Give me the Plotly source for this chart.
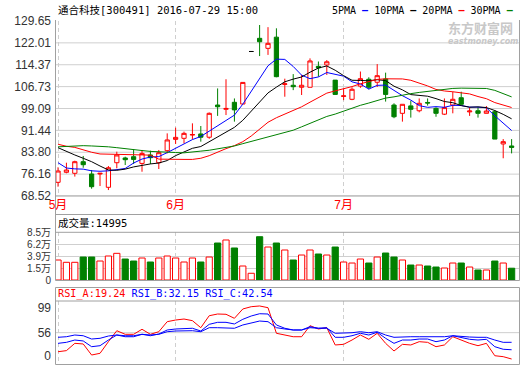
import plotly.graph_objects as go

# ---------------- data ----------------
dates = [
    "2016-05-12", "2016-05-13", "2016-05-16", "2016-05-17", "2016-05-18", "2016-05-19", "2016-05-20",
    "2016-05-23", "2016-05-24", "2016-05-25", "2016-05-26", "2016-05-27", "2016-05-30", "2016-05-31",
    "2016-06-01", "2016-06-02", "2016-06-03", "2016-06-06", "2016-06-07", "2016-06-08", "2016-06-13",
    "2016-06-14", "2016-06-15", "2016-06-16", "2016-06-17", "2016-06-20", "2016-06-21", "2016-06-22",
    "2016-06-23", "2016-06-24", "2016-06-27", "2016-06-28", "2016-06-29", "2016-06-30",
    "2016-07-01", "2016-07-04", "2016-07-05", "2016-07-06", "2016-07-07", "2016-07-08", "2016-07-11",
    "2016-07-12", "2016-07-13", "2016-07-14", "2016-07-15", "2016-07-18", "2016-07-19", "2016-07-20",
    "2016-07-21", "2016-07-22", "2016-07-25", "2016-07-26", "2016-07-27", "2016-07-28", "2016-07-29",
]
opens = [73.3, 76.8, 76.45, 80.5, 76.2, 76.2, 71.56, 80.15, 81.8, 82.25,
         79.9, 82.85, 80.15, 84.35, 88.3, 88.67, 89.8, 90.2, 89.05, 100.3,
         98.8, 101.25, 100.65, 119.0, 123.6, 120.1, 124.0, 107.5, 107.2, 106.5,
         106.5, 113.8, 114.3, 109.0, 103.3, 102.3, 106.9, 109.3, 108.25, 109.4,
         100.3, 97.4, 100.0, 98.3, 101.2, 99.15, 97.1, 100.3, 102.85, 97.9,
         98.3, 97.4, 97.95, 86.7, 86.0]
highs = [78.55, 80.15, 80.85, 82.5, 77.6, 76.5, 79.0, 84.0, 82.25, 84.8,
         84.6, 84.35, 84.6, 90.4, 92.4, 91.0, 93.9, 92.97, 97.7, 106.1,
         109.3, 102.6, 108.2, 119.0, 128.25, 127.5, 127.1, 109.5, 111.1, 110.8,
         116.6, 115.5, 116.0, 109.0, 106.1, 106.5, 112.0, 110.0, 114.6, 111.6,
         100.9, 100.55, 101.8, 102.6, 102.6, 99.5, 102.6, 104.95, 104.95, 99.5,
         99.5, 99.95, 98.55, 88.4, 88.4]
lows = [71.77, 76.45, 75.3, 78.4, 71.07, 72.0, 70.6, 78.2, 79.35, 79.7,
        77.0, 79.7, 77.95, 83.4, 86.7, 86.9, 88.3, 87.5, 88.5, 96.5,
        96.8, 94.5, 100.65, 119.0, 117.4, 117.8, 110.0, 103.2, 105.5, 103.8,
        106.5, 110.2, 110.8, 104.0, 102.0, 102.0, 106.3, 105.8, 106.6, 101.5,
        95.7, 94.5, 95.9, 97.75, 100.1, 96.2, 96.8, 97.4, 100.3, 96.5,
        95.9, 97.4, 88.4, 81.7, 83.4]
closes = [77.25, 77.6, 80.5, 79.45, 71.77, 76.45, 78.4, 82.85, 81.2, 81.3,
          83.4, 81.9, 83.65, 88.1, 89.0, 90.4, 90.0, 89.05, 97.4, 99.7,
          99.1, 98.6, 108.2, 119.0, 122.4, 121.85, 110.2, 107.7, 106.7, 107.2,
          115.7, 113.3, 115.4, 104.0, 103.5, 105.8, 109.5, 106.5, 110.55, 104.0,
          96.2, 100.55, 98.8, 100.9, 101.0, 97.4, 99.4, 102.3, 100.55, 98.2,
          97.4, 98.2, 88.4, 87.5, 85.5]
# volume in lots (手)
volumes = [31000, 26500, 26500, 36800, 36800, 29000, 38800, 44000, 32900, 29000,
           34900, 27100, 34900, 38800, 34900, 27100, 34900, 27100, 36800, 64100,
           70000, 54400, 19300, 5100, 76400, 56300, 64100, 50500, 31000, 40700,
           50500, 42700, 40700, 56300, 27100, 25100, 32900, 25100, 36800, 44600,
           36800, 31000, 21200, 21200, 19300, 17300, 15400, 25100, 25100, 17300,
           11500, 11500, 29000, 25100, 14995]
rsi_a = [29.4, 30.9, 41.1, 40.2, 24.8, 27.2, 43.4, 58.7, 53.7, 53.7,
         60.7, 53.7, 57.3, 71.3, 73.6, 75.0, 72.7, 62.9, 79.6, 82.0,
         81.6, 76.0, 89.0, 92.2, 93.2, 90.8, 55.1, 52.7, 50.3, 50.3,
         65.7, 61.1, 62.9, 38.8, 39.7, 45.7, 52.7, 46.7, 55.1, 41.1,
         30.4, 39.7, 38.8, 43.4, 42.5, 36.4, 38.8, 50.3, 45.7, 41.1,
         37.8, 41.1, 23.8, 22.5, 19.24]
rsi_b = [41.1, 42.5, 45.7, 44.4, 36.4, 37.8, 45.7, 52.7, 50.3, 50.3,
         53.7, 51.7, 54.1, 59.7, 61.1, 62.1, 62.1, 58.3, 67.6, 70.4,
         70.4, 68.1, 74.6, 79.2, 82.4, 82.0, 66.7, 62.1, 59.7, 59.7,
         64.3, 62.1, 62.9, 49.5, 49.5, 51.7, 55.1, 52.7, 56.5, 48.1,
         41.1, 45.7, 45.7, 47.1, 47.1, 43.4, 45.7, 51.7, 49.0, 46.7,
         45.7, 46.7, 36.4, 32.8, 32.15]
rsi_c = [49.5, 50.3, 52.7, 51.7, 47.1, 48.1, 51.3, 52.7, 51.7, 51.7,
         53.7, 52.7, 53.7, 57.3, 58.3, 58.7, 58.7, 57.3, 62.9, 62.9,
         62.9, 62.1, 66.7, 69.0, 72.2, 71.3, 62.9, 61.1, 59.7, 59.7,
         62.9, 62.1, 62.1, 55.1, 55.1, 55.9, 57.3, 55.9, 57.3, 52.7,
         49.5, 50.3, 50.3, 50.3, 50.3, 49.5, 50.3, 51.7, 50.3, 49.9,
         49.5, 49.5, 45.7, 42.5, 42.54]
# moving-average values before enough visible closes exist
ma5_head = [80.15, 78.3, 78.0, 77.9]
ma10_head = [85.4, 84.0, 82.85, 81.7, 80.5, 79.0, 77.6, 77.5, 77.9]
ma20_head = [86.6, 85.9, 85.5, 84.6, 83.8, 83.2, 83.1, 83.0, 83.0, 82.9,
             82.9, 82.8, 81.4, 81.3, 81.3, 81.3, 81.3, 81.7, 82.6]
ma30_head = [85.7, 85.9, 86.0, 86.1, 86.0, 85.9, 85.7, 85.4, 85.0, 84.7,
             84.4, 84.1, 83.9, 83.8, 83.7, 83.6, 83.8, 84.2, 84.5, 85.0,
             85.5, 86.0, 86.8, 87.6, 88.4, 89.2, 89.9, 90.9, 91.5]

title_text = "通合科技[300491] 2016-07-29 15:00"
month_labels = ["5月", "6月", "7月"]
price_tick_labels = ["68.52", "76.16", "83.80", "91.44", "99.09",
                     "106.73", "114.37", "122.01", "129.65"]
vol_tick_labels = ["0", "1.5万", "3.9万", "6.2万", "8.5万"]
vol_axis_min, vol_axis_max = -0.8, 8.5          # in 万
rsi_axis_min, rsi_axis_max = 12.27, 100.14
rsi_tick_vals = [23.4, 56, 90.4]
rsi_tick_labels = ["0", "56", "99"]
rsi_mid = 56

# ---------------- styling ----------------
RED, GREEN, BLUE, BLACK = "#FF0000", "#008000", "#0000FF", "#000000"
GRID, FRAME = "#CFCFCF", "#A0A0A0"
W, H = 520, 365
MONO = "DejaVu Sans Mono, Noto Sans CJK SC"
SANS = "Liberation Sans, Noto Sans CJK SC"


def fx(p):
    return p / W


def fy(p):
    return 1 - p / H


def moving_average(values, n, head):
    out = list(head)
    for i in range(len(head), len(values)):
        out.append(sum(values[i - n + 1:i + 1]) / n)
    return out


n = len(dates)
ma5 = moving_average(closes, 5, ma5_head)
ma10 = moving_average(closes, 10, ma10_head)
ma20 = moving_average(closes, 20, ma20_head)
ma30 = moving_average(closes, 30, ma30_head)

flat = [highs[i] == lows[i] for i in range(n)]
norm_idx = [i for i in range(n) if not flat[i]]
flat_idx = [i for i in range(n) if flat[i]]

fig = go.Figure()

fig.add_trace(go.Candlestick(
    x=[dates[i] for i in norm_idx],
    open=[opens[i] for i in norm_idx], high=[highs[i] for i in norm_idx],
    low=[lows[i] for i in norm_idx], close=[closes[i] for i in norm_idx],
    increasing=dict(line=dict(color=RED, width=1), fillcolor="white"),
    decreasing=dict(line=dict(color=GREEN, width=1), fillcolor=GREEN),
    whiskerwidth=0, xaxis="x", yaxis="y", showlegend=False))
fig.add_trace(go.Candlestick(
    x=[dates[i] for i in flat_idx],
    open=[opens[i] for i in flat_idx], high=[highs[i] for i in flat_idx],
    low=[lows[i] for i in flat_idx], close=[closes[i] for i in flat_idx],
    increasing=dict(line=dict(color=BLACK, width=1), fillcolor=BLACK),
    decreasing=dict(line=dict(color=BLACK, width=1), fillcolor=BLACK),
    whiskerwidth=0, xaxis="x", yaxis="y", showlegend=False))

for vals, col, name in [(ma5, BLUE, "5PMA"), (ma10, BLACK, "10PMA"),
                        (ma20, RED, "20PMA"), (ma30, GREEN, "30PMA")]:
    fig.add_trace(go.Scatter(x=dates, y=vals, mode="lines", name=name,
                             line=dict(color=col, width=1), xaxis="x", yaxis="y",
                             showlegend=False))

# volume bars (hollow red for up days, solid green for down days)
up = [closes[i] >= opens[i] for i in range(n)]
vol_wan = [v / 10000 for v in volumes]
fig.add_trace(go.Bar(
    x=dates, y=[v - vol_axis_min for v in vol_wan], base=[vol_axis_min] * n,
    marker=dict(color=["white" if u else GREEN for u in up],
                line=dict(color=[RED if u else GREEN for u in up], width=1)),
    xaxis="x2", yaxis="y2", showlegend=False))

for vals, col, name in [(rsi_a, RED, "RSI_A"), (rsi_b, BLUE, "RSI_B"), (rsi_c, BLUE, "RSI_C")]:
    fig.add_trace(go.Scatter(x=dates, y=vals, mode="lines", name=name,
                             line=dict(color=col, width=1), xaxis="x3", yaxis="y3",
                             showlegend=False))

month_starts = [dates[i] for i in range(n) if i == 0 or dates[i][5:7] != dates[i - 1][5:7]]
x_range = [-0.24, 54.88]
x_domain = [fx(56), fx(519)]
xcommon = dict(type="category", categoryorder="array", categoryarray=dates,
               range=x_range, domain=x_domain, tickvals=month_starts,
               showgrid=True, gridcolor=GRID, gridwidth=1, griddash="4px,3px",
               zeroline=False, showline=False, ticks="", fixedrange=True)

price_tick_vals = [float(t) for t in price_tick_labels]
vol_tick_vals = [vol_axis_min + k * (vol_axis_max - vol_axis_min) / 4 for k in range(5)]
tickfont = dict(family=SANS, size=12, color="#333333")
voltickfont = dict(family=SANS, size=10, color="#333333")

fig.update_layout(
    template="none", width=W, height=H, margin=dict(l=0, r=0, t=0, b=0),
    paper_bgcolor="white", plot_bgcolor="white", showlegend=False,
    xaxis=dict(**xcommon, anchor="y", ticktext=month_labels, showticklabels=True,
               tickfont=dict(family=SANS, size=12, color=RED),
               rangeslider=dict(visible=False)),
    xaxis2=dict(**xcommon, anchor="y2", matches="x", showticklabels=False),
    xaxis3=dict(**xcommon, anchor="y3", matches="x", showticklabels=False),
    yaxis=dict(domain=[fy(196), fy(21)], range=[price_tick_vals[0], price_tick_vals[-1]],
               tickvals=price_tick_vals, ticktext=price_tick_labels, showgrid=False,
               zeroline=False, showline=False, ticks="", ticklabelstandoff=4,
               tickfont=tickfont, fixedrange=True),
    yaxis2=dict(domain=[fy(280), fy(232.3)], range=[vol_axis_min, vol_axis_max],
                tickvals=vol_tick_vals, ticktext=vol_tick_labels, showgrid=True,
                gridcolor=GRID, zeroline=False, showline=False, ticks="",
                ticklabelstandoff=4, tickfont=voltickfont, fixedrange=True),
    yaxis3=dict(domain=[fy(364), fy(301)], range=[rsi_axis_min, rsi_axis_max],
                tickvals=rsi_tick_vals, ticktext=rsi_tick_labels, showgrid=False,
                zeroline=False, showline=False, ticks="", ticklabelstandoff=4,
                tickfont=tickfont, fixedrange=True),
    boxgap=0.28, bargap=0.26,
)

shapes = []
for v in price_tick_vals[:-1]:
    shapes.append(dict(type="line", xref="x domain", yref="y", x0=0, x1=1, y0=v, y1=v,
                       line=dict(color=GRID, width=1), layer="below"))
shapes.append(dict(type="line", xref="x3 domain", yref="y3", x0=0, x1=1, y0=rsi_mid, y1=rsi_mid,
                   line=dict(color=GRID, width=1), layer="below"))


def seg(x0, y0, x1, y1):
    return dict(type="line", xref="paper", yref="paper", x0=fx(x0), x1=fx(x1),
                y0=fy(y0), y1=fy(y1), line=dict(color=FRAME, width=1))


frame = [
    seg(55.5, 20, 55.5, 280.5), seg(519.5, 20, 519.5, 280.5),
    seg(55.5, 287.5, 55.5, 364.5), seg(519.5, 287.5, 519.5, 364.5),
    seg(55.5, 196, 519.5, 196), seg(55.5, 214.5, 519.5, 214.5),
    seg(55.5, 232.3, 519.5, 232.3), seg(55.5, 280.5, 519.5, 280.5),
    seg(55.5, 287.5, 519.5, 287.5), seg(55.5, 301, 519.5, 301),
    seg(55.5, 364.5, 519.5, 364.5),
]
fig.update_layout(shapes=shapes + frame)


def ann(text, x, y, size, color="#000000", family=MONO, xanchor="left", bold=False):
    return dict(text=f"<b>{text}</b>" if bold else text, x=fx(x), y=fy(y),
                xref="paper", yref="paper", xanchor=xanchor, yanchor="middle",
                showarrow=False, font=dict(family=family, size=size, color=color))


legend_html = (
    f"5PMA <span style='color:{BLUE}'><b>–</b></span> "
    f"10PMA <span style='color:{BLACK}'><b>–</b></span> "
    f"20PMA <span style='color:{RED}'><b>–</b></span> "
    f"30PMA <span style='color:{GREEN}'><b>–</b></span>"
)
rsi_html = (
    f"<span style='color:{RED}'>RSI_A:{rsi_a[-1]:.2f}</span> "
    f"<span style='color:{BLUE}'>RSI_B:{rsi_b[-1]:.2f}</span> "
    f"<span style='color:{BLUE}'>RSI_C:{rsi_c[-1]:.2f}</span>"
)

fig.update_layout(annotations=[
    ann(title_text, 56, 10, 10.5),
    ann(legend_html, 516, 10, 10, xanchor="right"),
    ann("东方财富网", 446, 27, 13, color="#C8C8C8", family="Noto Sans CJK SC", bold=True),
    ann("<i>eastmoney.com</i>", 446, 42, 8, color="#C8C8C8", family="DejaVu Sans", bold=True),
    ann(f"成交量:{volumes[-1]}", 56, 223, 10.5),
    ann(rsi_html, 56, 294, 10.2),
])

fig.write_html("out.html")
